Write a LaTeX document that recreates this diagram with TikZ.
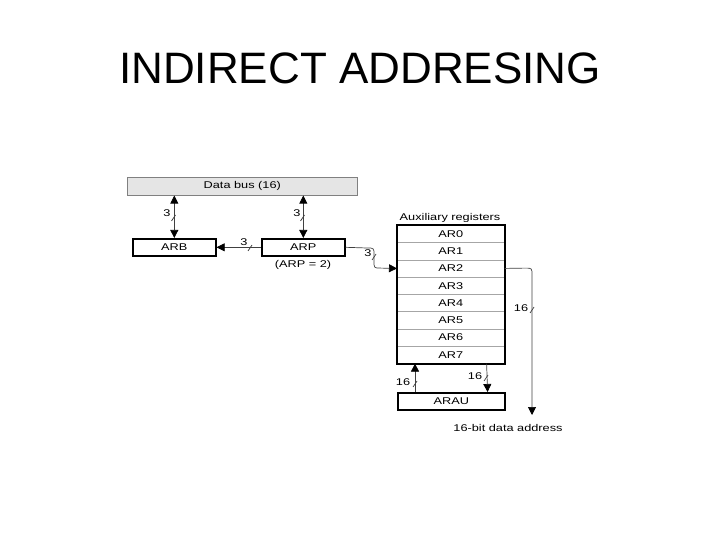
\documentclass[tikz,border=0pt]{standalone}
\usepackage{fontspec}
\setmainfont{Liberation Sans}
\usetikzlibrary{arrows.meta}
\newcommand{\lbl}[1]{\scalebox{1.3}[1]{\fontsize{9.8}{11}\selectfont #1}}
\begin{document}
\begin{tikzpicture}[x=1pt,y=-1pt,
  reg/.style={draw=gray!70, line width=0.6pt, minimum width=107pt, minimum height=17.25pt, inner sep=0pt, anchor=north west},
  boxx/.style={draw=black, line width=1.6pt, inner sep=0pt, anchor=north west, minimum height=17pt},
  wire/.style={draw=gray!50!black, line width=0.7pt},
  tip/.style={-{Triangle[length=8pt,width=8pt,color=black]}},
  dtip/.style={{Triangle[length=8pt,width=8pt,color=black]}-{Triangle[length=8pt,width=8pt,color=black]}},
  lab/.style={inner sep=0pt, text=black}]
\useasboundingbox (0,0) rectangle (720,540);
\node (title) at (360,68) {\fontsize{44}{50}\selectfont INDIRECT ADDRESING};
% data bus
\node[draw=gray, fill=gray!20, line width=0.6pt, minimum width=230pt, minimum height=18pt, inner sep=0pt, anchor=north west] (bus) at (127,177) {\lbl{Data bus (16)}};
% ARB, ARP
\node[boxx, minimum width=83pt] (ARB) at (132,238) {\lbl{ARB}};
\node[boxx, minimum width=83pt] (ARP) at (261,238) {\lbl{ARP}};
\node[lab] (arpv) at (303,265) {\lbl{(ARP = 2)}};
% bus to ARB/ARP
\draw[wire, dtip] (ARB.north |- bus.south) -- (ARB.north);
\draw[wire, dtip] (ARP.north |- bus.south) -- (ARP.north);
\draw[wire] (173.5,218) ++(-2,3) -- ++(4,-6);
\draw[wire] (302.5,218) ++(-2,3) -- ++(4,-6);
\node[lab] (l3a) at (167,213) {\lbl{3}};
\node[lab] (l3b) at (297,213) {\lbl{3}};
% ARP -> ARB
\draw[wire, tip] (ARP.west) -- (ARB.east);
\draw[wire] (250,248) ++(-2,3) -- ++(4,-6);
\node[lab] (l3c) at (244,242) {\lbl{3}};
% auxiliary registers
\node[lab] (auxl) at (450,218) {\lbl{Auxiliary registers}};
\foreach \i in {0,...,7} {
  \node[reg] (AR\i) at (397,{225+17.25*\i}) {\lbl{AR\i}};
}
\draw[line width=1.8pt] (AR0.north west) rectangle (AR7.south east);
% ARP -> AR2
\draw[wire, tip] (ARP.east) -- (367,248) .. controls (374,248) .. (374,255) -- (374,261) .. controls (374,268.1) .. (381,268.1) -- (AR2.west);
\draw[wire] (374,257) ++(-2,3) -- ++(4,-6);
\node[lab] (l3d) at (368,253) {\lbl{3}};
% ARAU
\node[boxx, minimum width=107pt] (ARAU) at (397,392) {\lbl{ARAU}};
\draw[wire, tip] ([xshift=18pt]ARAU.north west) -- ([xshift=18pt]AR7.south west);
\draw[wire, tip] ([xshift=-18pt]AR7.south east) -- ([xshift=-18pt]ARAU.north east);
\draw[wire] (415,384) ++(-2,3) -- ++(4,-6);
\draw[wire] (486,378) ++(-2,3) -- ++(4,-6);
\node[lab] (l16a) at (403,382) {\lbl{16}};
\node[lab] (l16b) at (475,376) {\lbl{16}};
% data address
\coordinate (da) at (532,415);
\draw[wire, tip] (AR2.east) -- (525,268.1) .. controls (532,268.1) .. (532,275) -- (da);
\draw[wire] (532,310) ++(-2,3) -- ++(4,-6);
\node[lab] (l16c) at (521,308) {\lbl{16}};
\node[lab] (dal) at (508,428) {\lbl{16-bit data address}};
\end{tikzpicture}
\end{document}
